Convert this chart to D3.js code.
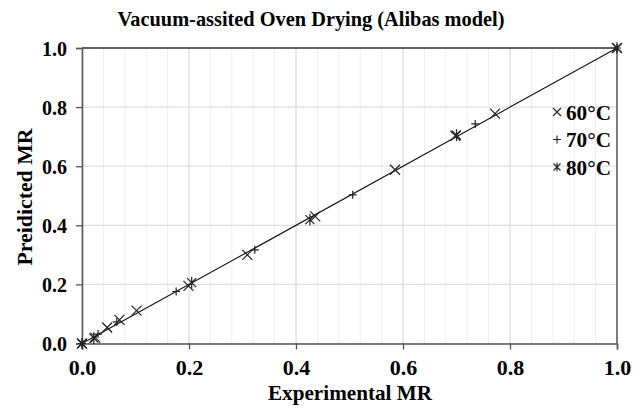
<!DOCTYPE html>
<html>
<head>
<meta charset="utf-8">
<script src="https://cdn.jsdelivr.net/npm/d3@7"></script>
<style>
  body { margin: 0; background: #fff; }
  text { font-family: "Liberation Serif", "Times New Roman", serif; font-weight: bold; fill: #000; }
</style>
</head>
<body>
<div id="chart"></div>
<script>
// Data: experimental vs predicted MR
const series = ["60°C", "70°C", "80°C"];
const exp60  = [1.0, 0.772, 0.698, 0.585, 0.436, 0.309, 0.199, 0.102, 0.070, 0.047, 0.025, 0.0];
const pred60 = [1.0, 0.778, 0.703, 0.588, 0.430, 0.300, 0.195, 0.111, 0.080, 0.054, 0.020, 0.0];
const exp70  = [1.0, 0.735, 0.506, 0.323, 0.176, 0.065, 0.030, 0.0];
const pred70 = [1.0, 0.743, 0.503, 0.317, 0.176, 0.073, 0.032, 0.0];
const exp80  = [1.0, 0.700, 0.426, 0.205, 0.022, 0.0];
const pred80 = [1.0, 0.705, 0.419, 0.206, 0.018, 0.0];
const majorTicks = [0, 0.2, 0.4, 0.6, 0.8, 1.0];
const minorTicks = d3.range(0, 25).map(i => i * 0.04);

const width = 640;
const height = 418;
const margin = { left: 82, right: 23, top: 48, bottom: 74.5 };

const svg = d3.select("#chart")
    .append("svg")
    .attr("width", width)
    .attr("height", height)
    .style("display", "block");

svg.append("rect").attr("width", width).attr("height", height).attr("fill", "#fff");

const x = d3.scaleLinear().domain([0, 1]).range([margin.left, width - margin.right]);
const y = d3.scaleLinear().domain([0, 1]).range([height - margin.bottom, margin.top]);

// grid
svg.append("g")
    .selectAll("line")
    .data(minorTicks)
    .join("line")
    .attr("x1", d => x(d)).attr("x2", d => x(d))
    .attr("y1", y(0)).attr("y2", y(1))
    .attr("stroke", "#efefef")
    .attr("stroke-width", 1);

svg.append("g")
    .selectAll("line")
    .data(majorTicks)
    .join("line")
    .attr("x1", d => x(d)).attr("x2", d => x(d))
    .attr("y1", y(0)).attr("y2", y(1))
    .attr("stroke", "#e0e0e0")
    .attr("stroke-width", 1.2);

svg.append("g")
    .selectAll("line")
    .data(majorTicks)
    .join("line")
    .attr("x1", x(0)).attr("x2", x(1))
    .attr("y1", d => y(d)).attr("y2", d => y(d))
    .attr("stroke", "#e0e0e0")
    .attr("stroke-width", 1.2);

// box border (top and right)
svg.append("line")
    .attr("x1", x(0)).attr("x2", x(1)).attr("y1", y(1)).attr("y2", y(1))
    .attr("stroke", "#333").attr("stroke-width", 1.5);
svg.append("line")
    .attr("x1", x(1)).attr("x2", x(1)).attr("y1", y(0)).attr("y2", y(1))
    .attr("stroke", "#444").attr("stroke-width", 1.3);

// axes
const xAxis = svg.append("g")
    .attr("transform", `translate(0,${y(0)})`)
    .call(d3.axisBottom(x).tickValues(majorTicks).tickFormat(d3.format(".1f")).tickSize(6).tickPadding(10));

const yAxis = svg.append("g")
    .attr("transform", `translate(${x(0)},0)`)
    .call(d3.axisLeft(y).tickValues(majorTicks).tickFormat(d3.format(".1f")).tickSize(6).tickPadding(9));

[xAxis, yAxis].forEach(a => {
    a.select(".domain").attr("stroke", "#555").attr("stroke-width", 1.5);
    a.selectAll(".tick line").attr("stroke", "#555").attr("stroke-width", 1.3);
    a.selectAll(".tick text")
        .attr("fill", "#000")
        .style("font-family", "'Liberation Serif', 'Times New Roman', serif")
        .style("font-weight", "bold")
        .style("font-size", "20px");
});
xAxis.selectAll(".tick text").style("font-size", "22px");
yAxis.selectAll(".tick text").attr("dy", "0.35em");

// 1:1 line
svg.append("line")
    .attr("x1", x(0)).attr("y1", y(0))
    .attr("x2", x(1)).attr("y2", y(1))
    .attr("stroke", "#111")
    .attr("stroke-width", 1.1);

// marker shapes
function markerPath(type, s) {
    const p = d3.path();
    if (type === 0 || type === 2) {
        p.moveTo(-s, -s); p.lineTo(s, s);
        p.moveTo(-s, s); p.lineTo(s, -s);
    }
    if (type === 1) {
        p.moveTo(-s, 0); p.lineTo(s, 0);
        p.moveTo(0, -s); p.lineTo(0, s);
    }
    if (type === 2) {
        p.moveTo(0, -s * 1.3); p.lineTo(0, s * 1.3);
    }
    return p.toString();
}

const allData = [
    { name: series[0], type: 0, size: 5, exp: exp60, pred: pred60 },
    { name: series[1], type: 1, size: 4, exp: exp70, pred: pred70 },
    { name: series[2], type: 2, size: 4.5, exp: exp80, pred: pred80 }
];

allData.forEach(s => {
    svg.append("g")
        .selectAll("path")
        .data(s.exp.map((d, i) => [d, s.pred[i]]))
        .join("path")
        .attr("transform", d => `translate(${x(d[0])},${y(d[1])})`)
        .attr("d", markerPath(s.type, s.size))
        .attr("fill", "none")
        .attr("stroke", "#222")
        .attr("stroke-width", 1.2);
});

// legend
const legend = svg.append("g").attr("transform", "translate(557,112)");
allData.forEach((s, i) => {
    const row = legend.append("g").attr("transform", `translate(0,${i * 27.5})`);
    row.append("path")
        .attr("d", markerPath(s.type, s.type === 2 ? 3.5 : 4))
        .attr("fill", "none")
        .attr("stroke", "#222")
        .attr("stroke-width", 1.1);
    row.append("text")
        .attr("x", 9)
        .attr("y", 0)
        .attr("dy", "0.35em")
        .style("font-size", "22px")
        .attr("textLength", 45)
        .attr("lengthAdjust", "spacingAndGlyphs")
        .text(s.name);
});

// titles
svg.append("text")
    .attr("x", 311)
    .attr("y", 26)
    .attr("text-anchor", "middle")
    .style("font-size", "21px")
    .attr("textLength", 387)
    .attr("lengthAdjust", "spacingAndGlyphs")
    .text("Vacuum-assited Oven Drying (Alibas model)");

svg.append("text")
    .attr("x", 350)
    .attr("y", 400)
    .attr("text-anchor", "middle")
    .style("font-size", "21px")
    .attr("textLength", 164)
    .attr("lengthAdjust", "spacingAndGlyphs")
    .text("Experimental MR");

svg.append("text")
    .attr("transform", "translate(32,197) rotate(-90)")
    .attr("text-anchor", "middle")
    .style("font-size", "21px")
    .attr("textLength", 137)
    .attr("lengthAdjust", "spacingAndGlyphs")
    .text("Preidicted MR");
</script>
</body>
</html>
